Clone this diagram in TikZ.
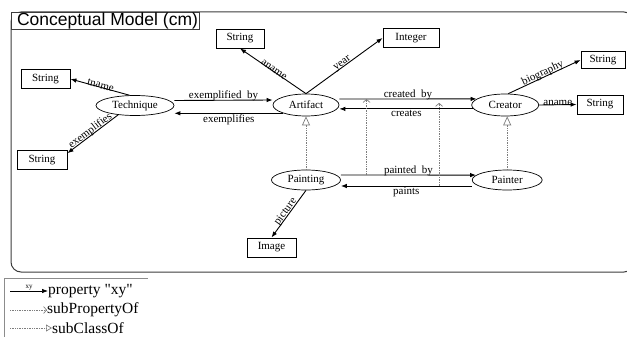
\documentclass[tikz,border=0pt]{standalone}
\usepackage{fontspec}
\setmainfont{Liberation Serif}
\setsansfont{Liberation Sans}
\usetikzlibrary{shapes.geometric,arrows.meta,positioning}
\definecolor{frame}{RGB}{60,60,60}
\definecolor{dots}{RGB}{125,125,125}
\definecolor{keyline}{RGB}{140,140,140}

\begin{document}
\begin{tikzpicture}[x=1pt,y=-1pt,every node/.style={font=\fontsize{11}{12}\selectfont},
  cls/.style={draw,ellipse,line width=0.7pt,inner sep=0pt,minimum height=20pt},
  lit/.style={draw,rectangle,line width=0.9pt,inner sep=0pt,minimum height=19pt},
  prop/.style={-{Latex[length=6pt,width=4.5pt]},line width=0.9pt},
  lbl/.style={inner sep=0pt},
  subc/.style={-{Triangle[open,length=9pt,width=8pt]},densely dotted,dots,line width=0.7pt},
  subp/.style={-{Straight Barb[length=3pt,width=7pt]},densely dotted,dots,line width=0.7pt},
  key/.style={anchor=west,inner sep=0pt,font=\fontsize{15.5}{17}\selectfont}]
\useasboundingbox (0,0) rectangle (627,337);
% model frame and its title tab
\draw[frame,line width=1pt,rounded corners=10pt] (11,12) rectangle (634,272);
\node[draw=frame,fill=white,line width=1pt,anchor=north west,minimum width=188pt,minimum height=17pt,inner sep=0pt,font=\sffamily\fontsize{17.5}{18}\selectfont] (title) at (11,12) {\hspace{4pt}Conceptual Model (cm)};

% classes
\node[cls,minimum width=78pt] (tq) at (135,105.5) {Technique};
\node[cls,minimum width=66pt,minimum height=22pt] (art) at (306,105) {Artifact};
\node[cls,minimum width=67pt,minimum height=22pt,right=132pt of art] (cr) {Creator};
\node[cls,minimum width=69pt] (pg) at (306,180) {Painting};
\node[cls,minimum width=70pt,right=131pt of pg] (pt) {Painter};

% literal types
\node[lit,minimum width=49pt] (tn) at (45.5,79) {String};
\node[lit,minimum width=50pt] (ex) at (42,160) {String};
\node[lit,minimum width=48pt] (an) at (240,38.5) {String};
\node[lit,minimum width=56pt] (yr) at (411,38) {Integer};
\node[lit,minimum width=44pt,minimum height=17pt] (bio) at (603,60) {String};
\node[lit,minimum width=46pt] (can) at (600,104.5) {String};
\node[lit,minimum width=49pt] (img) at (271.5,247.5) {Image};

% object properties, both directions
\draw[prop] ([yshift=5pt]tq.east) -- node[lbl,above=-1.5pt]{exemplified\enspace by} ([yshift=5pt]art.west);
\draw[prop] (art.200) -- node[lbl,below=1pt]{exemplifies} (art.200 -| tq.east);
\draw[prop] ([yshift=6pt]art.east) -- node[lbl,above=-1.5pt]{created\enspace by} coordinate[pos=0.19] (cb) (cr.168);
\draw[prop] (cr.187) -- node[lbl,below=1pt]{creates} coordinate[pos=0.27] (cs) (cr.187 -| art.east);
\draw[prop] ([yshift=5pt]pg.east) -- node[lbl,above=-1.5pt]{painted\enspace by} coordinate[pos=0.19] (pb) (pt.171);
\draw[prop] ([yshift=-6pt]pt.west) -- node[lbl,below=1pt]{paints} coordinate[pos=0.25] (ps) ([yshift=-6pt]pg.east);

% datatype properties
\draw[prop] (tq.118) -- node[lbl,sloped,above=-1.5pt]{tname} (tn.east);
\draw[prop] (tq.209) -- node[lbl,sloped,above=-1.5pt]{exemplifies} (ex.15);
\draw[prop] (art.north) -- node[lbl,sloped,above=-1.5pt]{aname} (an.south);
\draw[prop] (art.north) -- node[lbl,sloped,above=-1.5pt]{year} (yr.west);
\draw[prop] (cr.75) -- node[lbl,sloped,above=-1.5pt]{biography} (bio.west);
\draw[prop] (cr.east) -- node[lbl,above=-1.5pt]{aname} (can.west);
\draw[prop] (pg.south) -- node[lbl,sloped,above=-1.5pt]{picture} (img.north);

% hierarchy
\draw[subc] (pg) -- (art);
\draw[subc] (pt) -- (pt |- cr.south);
\draw[subp] (pb) -- (pb |- cb);
\draw[subp,shorten >=-6pt] (ps) -- (ps |- cs);

% key
\draw[keyline,line width=1pt] (4,340) |- (148,278);
\node[key] (kprop) at (48,291) {property \textquotedbl xy\textquotedbl};
\node[key] (ksubp) at (47,310) {subPropertyOf};
\node[key] (ksubc) at (52,328) {subClassOf};
\coordinate (k1) at (10,291);
\coordinate (k2) at (10,310);
\coordinate (k3) at (10,328);
\draw[prop,line width=0.7pt] (k1) -- node[above=0.3pt,inner sep=0pt,font=\fontsize{7}{8}\selectfont]{xy} (kprop.west);
\draw[subp] (k2) -- (ksubp.west);
\draw[subc,-{Triangle[open,length=6pt,width=7pt]}] (k3) -- (ksubc.west);
\end{tikzpicture}
\end{document}
